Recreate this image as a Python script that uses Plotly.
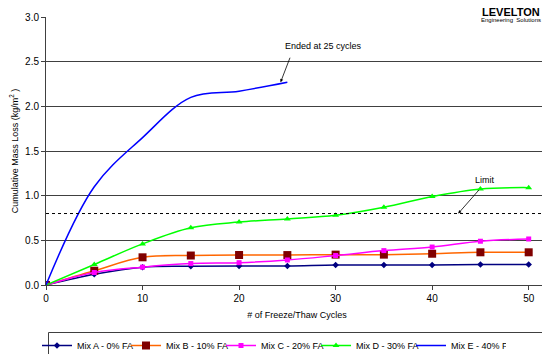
import plotly.graph_objects as go

cycles = [0, 5, 10, 15, 20, 25, 30, 35, 40, 45, 50]
cycles_e = [0, 5, 10, 15, 20, 25]

mix_a = [0.0, 0.12, 0.20, 0.21, 0.213, 0.213, 0.224, 0.224, 0.224, 0.23, 0.23]
mix_b = [0.0, 0.16, 0.31, 0.33, 0.336, 0.335, 0.34, 0.34, 0.35, 0.366, 0.366]
mix_c = [0.0, 0.14, 0.20, 0.24, 0.25, 0.28, 0.33, 0.385, 0.425, 0.49, 0.515]
mix_d = [0.0, 0.23, 0.46, 0.64, 0.705, 0.74, 0.78, 0.87, 0.99, 1.075, 1.09]
mix_e = [0.0, 1.10, 1.65, 2.10, 2.17, 2.27]

limit = 0.8
x_ticks = [0, 10, 20, 30, 40, 50]
y_ticks = [0.0, 0.5, 1.0, 1.5, 2.0, 2.5, 3.0]
y_ticktext = ["0.0", "0.5", "1.0", "1.5", "2.0", "2.5", "3.0"]

FONT = "Liberation Sans, Arial, sans-serif"

# The page body has an 8px default margin; the figure is sized so that its
# plot area lands at window pixels x 46..548, y 17..285.
OFF = 8

def px_x(p):
    return (p - 46) / 502

def px_y(p):
    return (285 - p) / 268

fig = go.Figure()
fig.add_trace(go.Scatter(x=cycles, y=mix_a, name="Mix A - 0% FA", mode="lines+markers",
                         legendwidth=44,
                         line=dict(color="#000080", width=1.5, shape="spline"),
                         marker=dict(symbol="diamond", size=5, color="#000080")))
fig.add_trace(go.Scatter(x=cycles, y=mix_b, name="Mix B - 10% FA", mode="lines+markers",
                         line=dict(color="#FF6600", width=1.5, shape="spline"),
                         marker=dict(symbol="square", size=8, color="#800000")))
fig.add_trace(go.Scatter(x=cycles, y=mix_c, name="Mix C - 20% FA", mode="lines+markers",
                         line=dict(color="#FF00FF", width=1.5, shape="spline"),
                         marker=dict(symbol="square", size=5, color="#FF00FF")))
fig.add_trace(go.Scatter(x=cycles, y=mix_d, name="Mix D - 30% FA", mode="lines+markers",
                         line=dict(color="#00FF00", width=1.5, shape="spline"),
                         marker=dict(symbol="triangle-up", size=6, color="#00FF00")))
fig.add_trace(go.Scatter(x=cycles_e, y=mix_e, name="Mix E - 40% FA", mode="lines",
                         line=dict(color="#0000FF", width=1.5, shape="spline")))

# Limit line
fig.add_shape(type="line", xref="x domain", yref="y", x0=0, x1=1, y0=limit, y1=limit,
              line=dict(color="black", width=1, dash="dot"))
# right border of plot area
fig.add_shape(type="line", xref="paper", yref="paper", x0=1, x1=1, y0=0, y1=1,
              line=dict(color="#909090", width=1))
# legend box
fig.add_shape(type="rect", xref="paper", yref="paper",
              x0=px_x(48.5), x1=px_x(547.5), y0=px_y(332.5), y1=px_y(362),
              line=dict(color="#404040", width=1), fillcolor="rgba(0,0,0,0)")
# logo blue rectangle (top part lies in page margin)
fig.add_shape(type="rect", xref="paper", yref="paper",
              x0=px_x(505), x1=px_x(528), y0=px_y(5), y1=px_y(-2),
              line=dict(width=0), fillcolor="#1F3FA8")

# annotations
fig.add_annotation(x=24.3, y=2.27, xref="x", yref="y", text="", showarrow=True,
                   ax=10, ay=-26, arrowhead=2, arrowsize=0.8, arrowwidth=0.8, arrowcolor="black")
fig.add_annotation(x=px_x(323), y=px_y(46), xref="paper", yref="paper",
                   xanchor="center", yanchor="middle",
                   text="Ended at 25 cycles", showarrow=False,
                   font=dict(family=FONT, size=9, color="black"))
fig.add_annotation(x=42.7, y=limit, xref="x", yref="y", text="", showarrow=True,
                   ax=22, ay=-25, arrowhead=2, arrowsize=0.8, arrowwidth=0.8, arrowcolor="black")
fig.add_annotation(x=px_x(485), y=px_y(180), xref="paper", yref="paper",
                   xanchor="center", yanchor="middle",
                   text="Limit", showarrow=False,
                   font=dict(family=FONT, size=9, color="black"))
# logo text
fig.add_annotation(x=px_x(511), y=px_y(12.5), xref="paper", yref="paper",
                   xanchor="center", yanchor="middle",
                   text="<b>LEVELTON</b>", showarrow=False,
                   font=dict(family=FONT, size=11, color="black"))
fig.add_annotation(x=px_x(511), y=px_y(19.5), xref="paper", yref="paper",
                   xanchor="center", yanchor="middle",
                   text="Engineering  Solutions", showarrow=False,
                   font=dict(family=FONT, size=6, color="black"))

fig.update_layout(
    width=550 - OFF, height=354 - OFF,
    margin=dict(l=46 - OFF, r=2, t=17 - OFF, b=69, autoexpand=False),
    paper_bgcolor="white", plot_bgcolor="white",
    font=dict(family=FONT, size=9, color="black"),
    showlegend=True,
    legend=dict(orientation="h", x=px_x(37), xanchor="left",
                y=px_y(331), yanchor="top",
                entrywidth=50, entrywidthmode="pixels",
                font=dict(family=FONT, size=9, color="black"),
                bgcolor="rgba(0,0,0,0)", borderwidth=0, itemwidth=30),
    xaxis=dict(range=[0, 52], tickvals=x_ticks, ticks="outside", ticklen=4,
               tickcolor="#404040", showline=True, linecolor="#404040", linewidth=1,
               showgrid=False, zeroline=False, automargin=False,
               tickfont=dict(family=FONT, size=10, color="black"),
               title=dict(text="# of Freeze/Thaw Cycles", standoff=8,
                          font=dict(family=FONT, size=9, color="black"))),
    yaxis=dict(range=[0, 3], tickvals=y_ticks, ticktext=y_ticktext, ticks="outside", ticklen=4,
               tickcolor="#404040", showline=True, linecolor="#404040",
               linewidth=1, showgrid=True, gridcolor="#404040", gridwidth=1,
               zeroline=False, automargin=False, tickfont=dict(family=FONT, size=10, color="black"),
               title=dict(text="Cumulative Mass Loss (kg/m<sup>2</sup> )", standoff=6,
                          font=dict(family=FONT, size=9, color="black"))),
)

fig.write_html("out.html")
